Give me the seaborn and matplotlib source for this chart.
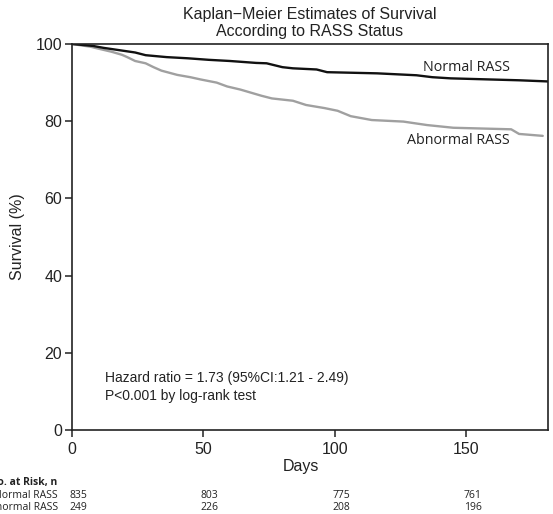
import matplotlib
matplotlib.use("Agg")
import matplotlib.pyplot as plt
import matplotlib.transforms as mtransforms
import pandas as pd
import seaborn as sns

# Survival curves (day, survival %)
normal_days = [0, 8, 12, 18, 24, 28, 36, 44, 52, 60, 70, 74, 80, 84, 93, 97, 116, 131, 137, 144, 170, 181]
normal_surv = [100, 99.5, 99.0, 98.4, 97.8, 97.1, 96.6, 96.3, 95.9, 95.6, 95.1, 95.0, 94.0, 93.7, 93.4, 92.7, 92.4, 91.9, 91.4, 91.1, 90.6, 90.3]
abnormal_days = [0, 7, 10, 15, 19, 21, 24, 28, 31, 34, 40, 45, 49, 55, 59, 64, 67, 72, 76, 84, 89, 96, 101, 106, 114, 126, 135, 145, 167, 170, 179]
abnormal_surv = [100, 99.3, 98.8, 98.0, 97.2, 96.6, 95.6, 95.0, 94.0, 93.1, 92.0, 91.4, 90.8, 90.0, 89.0, 88.2, 87.6, 86.6, 85.9, 85.3, 84.2, 83.4, 82.7, 81.3, 80.3, 79.9, 79.0, 78.3, 77.9, 76.7, 76.2]

tick_days = [0, 50, 100, 150]
risk_normal = [835, 803, 775, 761]
risk_abnormal = [249, 226, 208, 196]

df = pd.concat([
    pd.DataFrame({"Days": normal_days, "Survival": normal_surv, "Group": "Normal RASS"}),
    pd.DataFrame({"Days": abnormal_days, "Survival": abnormal_surv, "Group": "Abnormal RASS"}),
])

sns.set_style("ticks")
plt.rcParams["font.family"] = ["Liberation Sans", "DejaVu Sans"]
ink = "#222222"

fig = plt.figure(figsize=(5.53, 5.14), dpi=100)
ax = fig.add_axes([72 / 553, 1 - 430 / 514, 476 / 553, 386 / 514])

sns.lineplot(data=df, x="Days", y="Survival", hue="Group",
             palette={"Normal RASS": "#111111", "Abnormal RASS": "#a0a0a0"},
             hue_order=["Abnormal RASS", "Normal RASS"],
             linewidth=1.7, legend=False, ax=ax)

ax.set_xlim(0, 181)
ax.set_ylim(0, 100)
ax.set_xticks(tick_days)
ax.set_yticks([0, 20, 40, 60, 80, 100])
ax.tick_params(axis="both", labelsize=11.5, length=5, width=1.1, colors=ink,
               labelcolor=ink, direction="out", pad=2)
ax.tick_params(axis="x", pad=4)
for s in ax.spines.values():
    s.set_linewidth(1.2)
    s.set_color(ink)

ax.set_xlabel("Days", fontsize=11.5, color=ink)
ax.xaxis.set_label_coords(0.48, -0.075)
ax.set_ylabel("Survival (%)", fontsize=11.5, color=ink, labelpad=8)
ax.set_title("Kaplan\u2212Meier Estimates of Survival\nAccording to RASS Status",
             fontsize=11.5, color=ink, pad=6, linespacing=1.1)

ax.text(166.5, 94.0, "Normal RASS", family=["Open Sans", "DejaVu Sans"], fontsize=10.3,
        ha="right", va="center", color=ink)
ax.text(166.5, 75.1, "Abnormal RASS", family=["Open Sans", "DejaVu Sans"], fontsize=10.3,
        ha="right", va="center", color=ink)
ax.text(12.5, 13.5, "Hazard ratio = 1.73 (95%CI:1.21 - 2.49)", fontsize=10,
        ha="left", va="center", color=ink)
ax.text(12.5, 8.9, "P<0.001 by log-rank test", fontsize=10,
        ha="left", va="center", color=ink)

# number at risk table
tf = dict(family=["Open Sans", "DejaVu Sans"], color=ink)
fig.text(57 / 553, 1 - 483 / 514, "No. at Risk, n", fontsize=7.5, weight="bold", ha="right", va="center", **tf)
fig.text(58 / 553, 1 - 496 / 514, "Normal RASS", fontsize=7.5, ha="right", va="center", **tf)
fig.text(58 / 553, 1 - 507 / 514, "Abnormal RASS", fontsize=7.5, ha="right", va="center", **tf)
tr = ax.get_xaxis_transform() + mtransforms.ScaledTranslation(6 / 100, 0, fig.dpi_scale_trans)
for d, n1, n2 in zip(tick_days, risk_normal, risk_abnormal):
    ax.text(d, -66 / 386, str(n1), transform=tr, fontsize=7.5, ha="center", va="center", clip_on=False, **tf)
    ax.text(d, -77 / 386, str(n2), transform=tr, fontsize=7.5, ha="center", va="center", clip_on=False, **tf)

fig.savefig("out.png", dpi=100)
